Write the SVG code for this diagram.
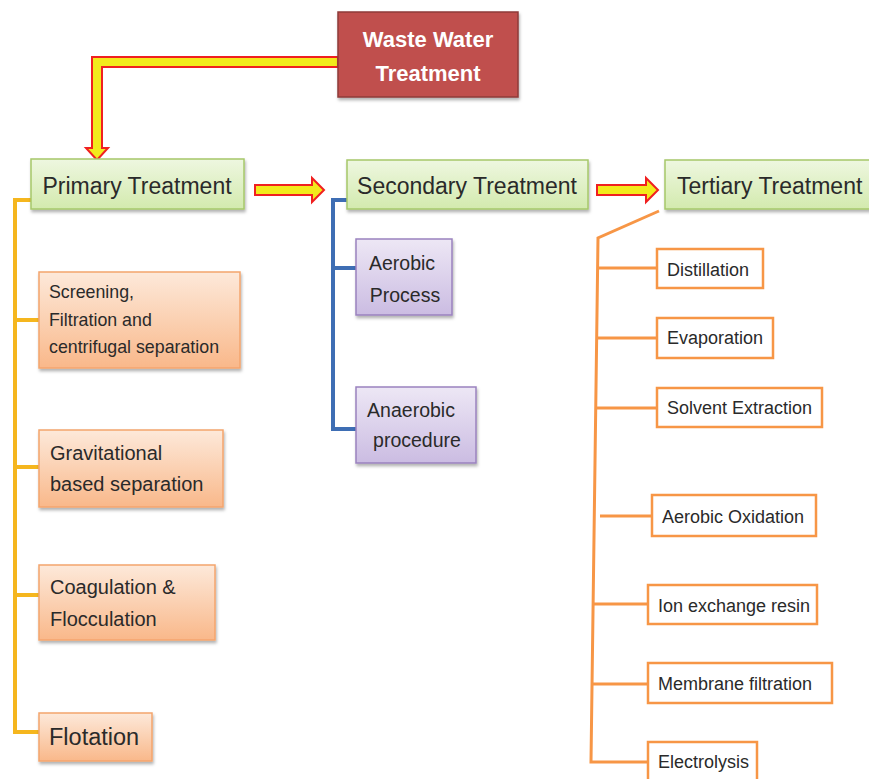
<svg xmlns="http://www.w3.org/2000/svg" width="869" height="779" viewBox="0 0 869 779">
<defs>
<linearGradient id="gGreen" x1="0" y1="0" x2="0" y2="1"><stop offset="0" stop-color="#EEF7E0"/><stop offset="1" stop-color="#D3EAAE"/></linearGradient>
<linearGradient id="gOrange" x1="0" y1="0" x2="0" y2="1"><stop offset="0" stop-color="#FDE9DA"/><stop offset="1" stop-color="#F9B88A"/></linearGradient>
<linearGradient id="gPurple" x1="0" y1="0" x2="0" y2="1"><stop offset="0" stop-color="#EDE7F5"/><stop offset="1" stop-color="#CBBCE2"/></linearGradient>
<filter id="sh" x="-10%" y="-10%" width="130%" height="140%"><feDropShadow dx="1" dy="2.5" stdDeviation="1.5" flood-color="#000" flood-opacity="0.3"/></filter>
<style>
.t{font-family:"Liberation Sans",Arial,sans-serif;fill:#2a2a2a}
.green{fill:url(#gGreen);stroke:#A6C86A;stroke-width:1.5;filter:url(#sh)}
.orange{fill:url(#gOrange);stroke:#F4A56C;stroke-width:1.5;filter:url(#sh)}
.purple{fill:url(#gPurple);stroke:#9A82BE;stroke-width:1.5;filter:url(#sh)}
.white{fill:#fff;stroke:#F79646;stroke-width:2.5}
.fat{fill:#F2EA1C;stroke:#F02020;stroke-width:2;stroke-linejoin:miter}
.gold{fill:none;stroke:#F5B61E;stroke-width:4}
.blue{fill:none;stroke:#3E6EB4;stroke-width:4}
.org{fill:none;stroke:#F79646;stroke-width:3}
</style>
</defs>
<rect width="869" height="779" fill="#fff"/>

<g id="connectors">
<polygon class="fat" points="338,57 92,57 92,148 86,148 97,160 108,148 102,148 102,67 338,67"/>
<polygon class="fat" points="255,185 312,185 312,178 324,190 312,202 312,195 255,195"/>
<polygon class="fat" points="597,185 646,185 646,178 658,190 646,202 646,195 597,195"/>
<polyline class="gold" points="31,200 15,200 15,732 39,732"/>
<line class="gold" x1="15" y1="320" x2="39" y2="320"/>
<line class="gold" x1="15" y1="467" x2="39" y2="467"/>
<line class="gold" x1="15" y1="595" x2="39" y2="595"/>
<polyline class="blue" points="347,200 333,200 333,429 356,429"/>
<line class="blue" x1="333" y1="268" x2="356" y2="268"/>
<polyline class="org" points="659,211 598,238 591,762 648,762"/>
<line class="org" x1="598" y1="268" x2="657" y2="268"/>
<line class="org" x1="597" y1="338" x2="657" y2="338"/>
<line class="org" x1="596" y1="408" x2="657" y2="408"/>
<line class="org" x1="600" y1="516" x2="652" y2="516"/>
<line class="org" x1="593" y1="604" x2="648" y2="604"/>
<line class="org" x1="592" y1="684" x2="648" y2="684"/>
</g>

<g id="waste-water">
<rect x="338" y="12" width="180" height="85" fill="#C0504D" stroke="#8E3A38" stroke-width="1.5" filter="url(#sh)"/>
<text x="428" y="47" text-anchor="middle" font-family="Liberation Sans,Arial,sans-serif" font-weight="bold" font-size="22" fill="#fff">Waste Water</text>
<text x="428" y="81" text-anchor="middle" font-family="Liberation Sans,Arial,sans-serif" font-weight="bold" font-size="22" fill="#fff">Treatment</text>
</g>

<g id="primary">
<rect class="green" x="31" y="159" width="213" height="50"/>
<text class="t" x="137" y="194" text-anchor="middle" font-size="23">Primary Treatment</text>
</g>
<g id="secondary">
<rect class="green" x="347" y="160" width="241" height="49"/>
<text class="t" x="467" y="194" text-anchor="middle" font-size="23">Secondary Treatment</text>
</g>
<g id="tertiary">
<rect class="green" x="665" y="160" width="215" height="49"/>
<text class="t" x="677" y="194" font-size="23">Tertiary Treatment</text>
</g>

<g id="screening">
<rect class="orange" x="39" y="272" width="201" height="96"/>
<text class="t" x="49" y="298" font-size="17.8">Screening,</text>
<text class="t" x="49" y="326" font-size="17.8">Filtration and</text>
<text class="t" x="49" y="353" font-size="17.8">centrifugal separation</text>
</g>
<g id="gravitational">
<rect class="orange" x="39" y="430" width="184" height="77"/>
<text class="t" x="50" y="460" font-size="20">Gravitational</text>
<text class="t" x="50" y="491" font-size="20">based separation</text>
</g>
<g id="coagulation">
<rect class="orange" x="39" y="565" width="176" height="75"/>
<text class="t" x="50" y="594" font-size="20">Coagulation &amp;</text>
<text class="t" x="50" y="626" font-size="20">Flocculation</text>
</g>
<g id="flotation">
<rect class="orange" x="39" y="713" width="113" height="48"/>
<text class="t" x="49" y="745" font-size="23.5">Flotation</text>
</g>

<g id="aerobic">
<rect class="purple" x="356" y="239" width="96" height="76"/>
<text class="t" x="402" y="270" text-anchor="middle" font-size="19.5">Aerobic</text>
<text class="t" x="405" y="302" text-anchor="middle" font-size="19.5">Process</text>
</g>
<g id="anaerobic">
<rect class="purple" x="356" y="387" width="120" height="76"/>
<text class="t" x="411" y="417" text-anchor="middle" font-size="19.5">Anaerobic</text>
<text class="t" x="417" y="447" text-anchor="middle" font-size="19.5">procedure</text>
</g>

<g id="distillation">
<rect class="white" x="657" y="249" width="106" height="39"/>
<text class="t" x="667" y="276" font-size="18">Distillation</text>
</g>
<g id="evaporation">
<rect class="white" x="657" y="318" width="116" height="40"/>
<text class="t" x="667" y="344" font-size="18">Evaporation</text>
</g>
<g id="solvent">
<rect class="white" x="657" y="388" width="165" height="39"/>
<text class="t" x="667" y="414" font-size="18">Solvent Extraction</text>
</g>
<g id="aerobic-oxidation">
<rect class="white" x="652" y="495" width="164" height="41"/>
<text class="t" x="662" y="523" font-size="18">Aerobic Oxidation</text>
</g>
<g id="ion-exchange">
<rect class="white" x="648" y="585" width="169" height="39"/>
<text class="t" x="658" y="612" font-size="18">Ion exchange resin</text>
</g>
<g id="membrane">
<rect class="white" x="648" y="663" width="184" height="40"/>
<text class="t" x="658" y="690" font-size="18">Membrane filtration</text>
</g>
<g id="electrolysis">
<rect class="white" x="648" y="742" width="109" height="45"/>
<text class="t" x="658" y="768" font-size="18">Electrolysis</text>
</g>
</svg>
